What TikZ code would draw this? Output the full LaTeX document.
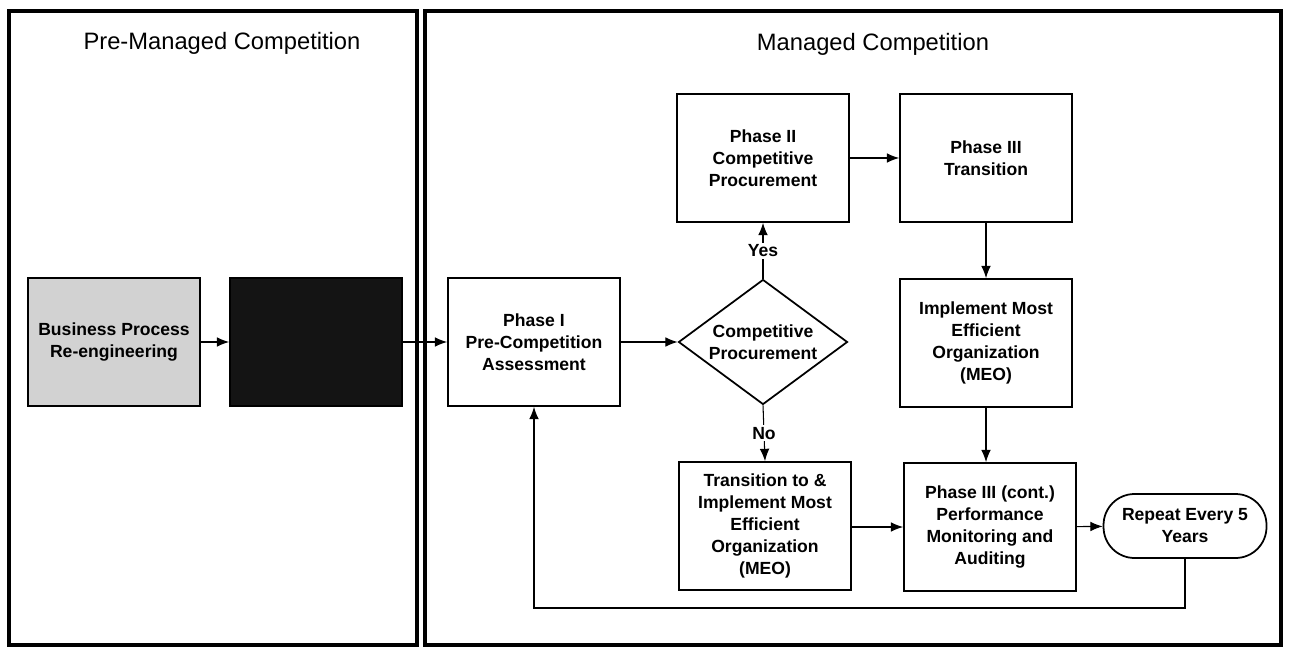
\documentclass[tikz,border=0pt]{standalone}
\usepackage{fontspec}
\setmainfont{Liberation Sans}
\usepackage{tikz}
\usetikzlibrary{shapes.geometric, arrows.meta}

\begin{document}
\begin{tikzpicture}[x=0.02cm, y=-0.02cm, >={Latex[length=7pt,width=5.5pt]}, semithick,
        phasebox/.style={draw, line width=1pt, fill=white, align=center,
            minimum width=3.44cm, minimum height=2.56cm, inner sep=2pt,
            font=\fontsize{10}{12.5}\selectfont\bfseries},
        decision/.style={draw, diamond, line width=1pt, fill=white, align=center,
            minimum width=3.38cm, minimum height=2.5cm, inner sep=0pt, aspect=1.35,
            font=\fontsize{10}{12.5}\selectfont\bfseries},
        terminal/.style={draw, rounded corners=0.62cm, line width=1pt, align=center,
            minimum width=3.26cm, minimum height=1.28cm, inner sep=2pt,
            font=\fontsize{10}{12.5}\selectfont\bfseries},
        branch/.style={fill=white, inner sep=1pt, font=\fontsize{10}{12}\selectfont\bfseries},
        paneltitle/.style={font=\fontsize{13.5}{16}\selectfont}]
            \useasboundingbox (0, 0) rectangle (1293, 648);

            % the two panels
            \draw[line width=1.8pt] (9, 11) rectangle (417, 645);
            \draw[line width=1.8pt] (425, 11) rectangle (1281, 645);
            \node[paneltitle] (pretitle) at (222, 43) {Pre-Managed Competition};
            \node[paneltitle] (mgdtitle) at (873, 44) {Managed Competition};

            % pre-managed competition
            \node[phasebox, fill=gray!35] (bpr) at (114, 342) {Business Process\\Re-engineering};
            \node[phasebox, fill=black!92] (dark) at (316, 342) {};

            % managed competition
            \node[phasebox] (phasei) at (534, 342) {Phase I\\Pre-Competition\\Assessment};
            \node[decision] (decide) at (763, 342) {Competitive\\Procurement};
            \node[phasebox] (phaseii) at (763, 158) {Phase II\\Competitive\\Procurement};
            \node[phasebox] (phaseiii) at (986, 158) {Phase III\\Transition};
            \node[phasebox] (meo) at (986, 343) {Implement Most\\Efficient\\Organization\\(MEO)};
            \node[phasebox] (transmeo) at (765, 526) {Transition to \&\\Implement Most\\Efficient\\Organization\\(MEO)};
            \node[phasebox] (monitor) at (990, 527) {Phase III (cont.)\\Performance\\Monitoring and\\Auditing};
            \node[terminal] (repeat) at (1185, 526) {Repeat Every 5\\Years};

            \draw[->] (bpr) -- (dark);
            \draw[->] (dark) -- (phasei);
            \draw[->] (phasei) -- (decide.west);
            \draw[->] (decide.north) -- node[branch] {Yes} (phaseii.south);
            \draw[->] (decide.south) -- node[branch] {No} (transmeo.north);
            \draw[->] (phaseii) -- (phaseiii);
            \draw[->] (phaseiii) -- (meo);
            \draw[->] (meo) -- (meo.south |- monitor.north);
            \draw[->] (transmeo) -- (transmeo.east |- monitor.west) -- (monitor.west);
            \draw[->] (monitor) -- (repeat);

            % loop back every five years
            \coordinate (back) at (1185, 608);
            \draw[->] (repeat.south) -- (back) -| (phasei.south);
\end{tikzpicture}
\end{document}
